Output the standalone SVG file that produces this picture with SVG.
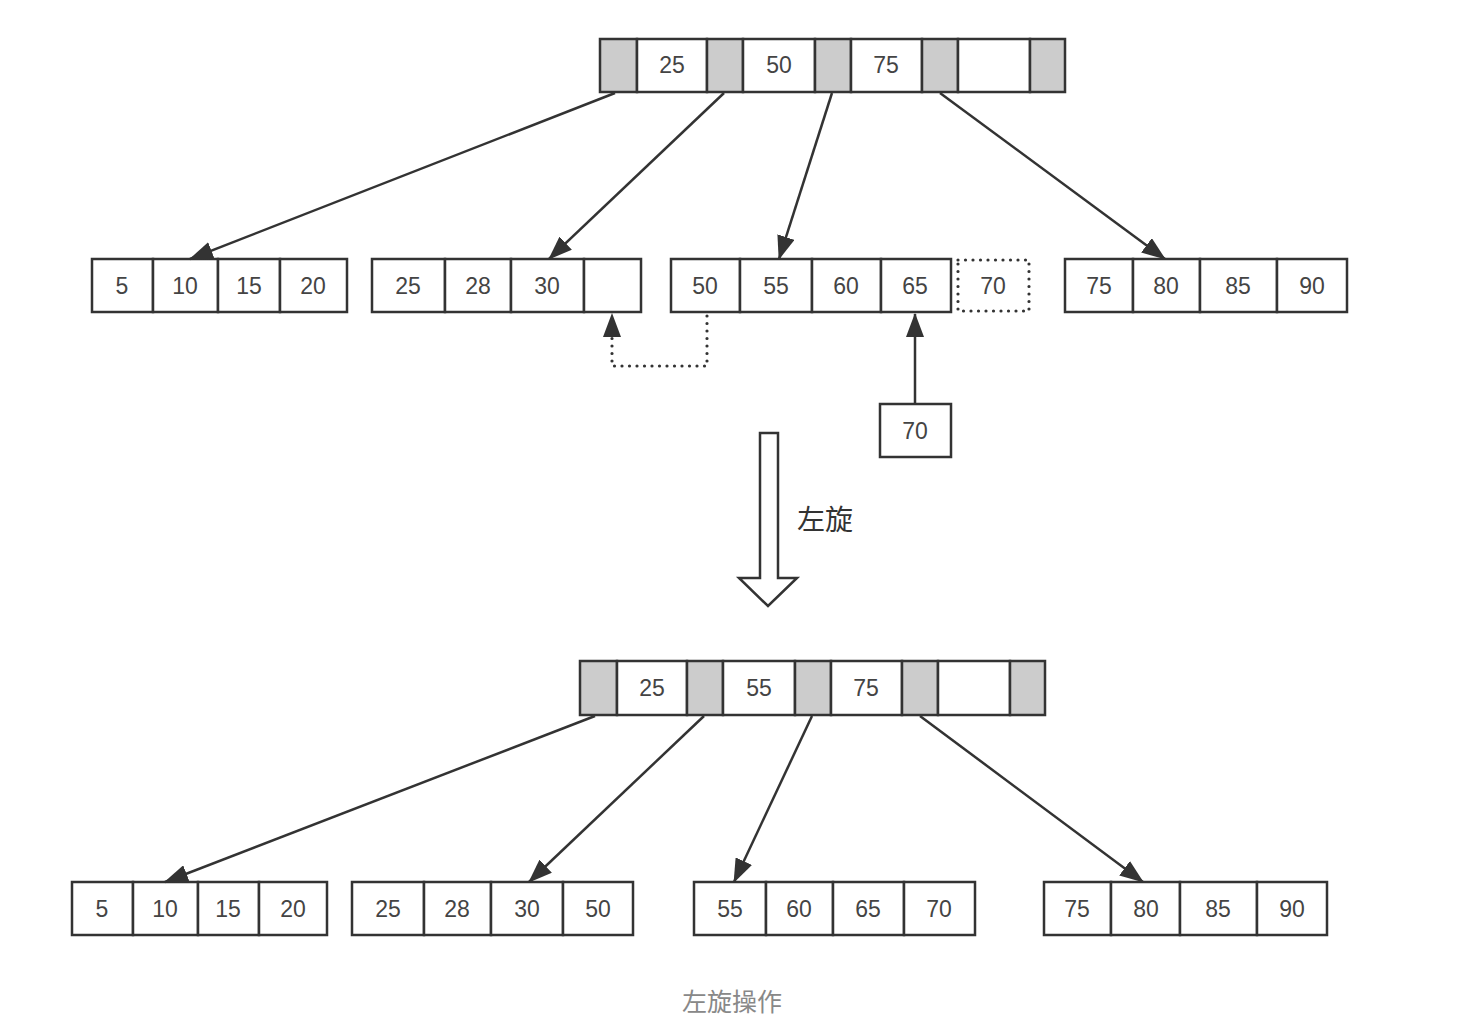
<svg xmlns="http://www.w3.org/2000/svg" width="1458" height="1034" viewBox="0 0 1458 1034">
<style>
.c{fill:#fff;stroke:#333;stroke-width:2.5}
.g{fill:#ccc;stroke:#333;stroke-width:2.5}
.d{fill:none;stroke:#333;stroke-width:3.2;stroke-dasharray:0 7.5;stroke-linecap:round}
.t{font-family:"Liberation Sans",Arial,sans-serif;font-size:23px;fill:#444;text-anchor:middle;dominant-baseline:central}
.e{fill:none;stroke:#333;stroke-width:2.5}
.lbl{font-family:"Noto Sans CJK SC",sans-serif;font-size:28px;fill:#333}
.cap{font-family:"Noto Sans CJK SC",sans-serif;font-size:25px;fill:#888;text-anchor:middle}
</style>
<defs>
<marker id="ah" markerUnits="userSpaceOnUse" markerWidth="24" markerHeight="18" viewBox="0 0 24 18" refX="23" refY="9" orient="auto">
<path d="M0,0 L24,9 L0,18 z" fill="#333"/>
</marker>
</defs>
<rect width="1458" height="1034" fill="#fff"/>

<g id="root1">
<rect class="g" x="600" y="39" width="37" height="53"/>
<rect class="c" x="637" y="39" width="70" height="53"/>
<rect class="g" x="707" y="39" width="36" height="53"/>
<rect class="c" x="743" y="39" width="72" height="53"/>
<rect class="g" x="815" y="39" width="36" height="53"/>
<rect class="c" x="851" y="39" width="71" height="53"/>
<rect class="g" x="922" y="39" width="36" height="53"/>
<rect class="c" x="958" y="39" width="72" height="53"/>
<rect class="g" x="1030" y="39" width="35" height="53"/>
<text class="t" x="672" y="65">25</text>
<text class="t" x="779" y="65">50</text>
<text class="t" x="886" y="65">75</text>
</g>

<g id="leaf1a">
<rect class="c" x="92" y="259" width="61" height="53"/>
<rect class="c" x="153" y="259" width="65" height="53"/>
<rect class="c" x="218" y="259" width="62" height="53"/>
<rect class="c" x="280" y="259" width="67" height="53"/>
<text class="t" x="122" y="286">5</text>
<text class="t" x="185" y="286">10</text>
<text class="t" x="249" y="286">15</text>
<text class="t" x="313" y="286">20</text>
</g>

<g id="leaf2a">
<rect class="c" x="372" y="259" width="73" height="53"/>
<rect class="c" x="445" y="259" width="66" height="53"/>
<rect class="c" x="511" y="259" width="73" height="53"/>
<rect class="c" x="584" y="259" width="57" height="53"/>
<text class="t" x="408" y="286">25</text>
<text class="t" x="478" y="286">28</text>
<text class="t" x="547" y="286">30</text>
</g>

<g id="leaf3a">
<rect class="c" x="671" y="259" width="69" height="53"/>
<rect class="c" x="740" y="259" width="72" height="53"/>
<rect class="c" x="812" y="259" width="69" height="53"/>
<rect class="c" x="881" y="259" width="70" height="53"/>
<text class="t" x="705" y="286">50</text>
<text class="t" x="776" y="286">55</text>
<text class="t" x="846" y="286">60</text>
<text class="t" x="915" y="286">65</text>
</g>

<g id="ghost70">
<rect class="d" x="958" y="260" width="71" height="51"/>
<text class="t" x="993" y="286">70</text>
</g>

<g id="leaf4a">
<rect class="c" x="1065" y="259" width="68" height="53"/>
<rect class="c" x="1133" y="259" width="67" height="53"/>
<rect class="c" x="1200" y="259" width="77" height="53"/>
<rect class="c" x="1277" y="259" width="70" height="53"/>
<text class="t" x="1099" y="286">75</text>
<text class="t" x="1166" y="286">80</text>
<text class="t" x="1238" y="286">85</text>
<text class="t" x="1312" y="286">90</text>
</g>

<g id="new70">
<rect class="c" x="880" y="404" width="71" height="53"/>
<text class="t" x="915" y="431">70</text>
</g>

<g id="rotate-arrow">
<path d="M760,433 L778,433 L778,578 L797,578 L768,606 L739,578 L760,578 Z" fill="#fff" stroke="#333" stroke-width="2.5" stroke-linejoin="miter"/>
<text class="lbl" x="797" y="530">左旋</text>
</g>

<g id="root2">
<rect class="g" x="580" y="661" width="37" height="54"/>
<rect class="c" x="617" y="661" width="70" height="54"/>
<rect class="g" x="687" y="661" width="36" height="54"/>
<rect class="c" x="723" y="661" width="72" height="54"/>
<rect class="g" x="795" y="661" width="36" height="54"/>
<rect class="c" x="831" y="661" width="71" height="54"/>
<rect class="g" x="902" y="661" width="36" height="54"/>
<rect class="c" x="938" y="661" width="72" height="54"/>
<rect class="g" x="1010" y="661" width="35" height="54"/>
<text class="t" x="652" y="688">25</text>
<text class="t" x="759" y="688">55</text>
<text class="t" x="866" y="688">75</text>
</g>

<g id="leaf1b">
<rect class="c" x="72" y="882" width="61" height="53"/>
<rect class="c" x="133" y="882" width="65" height="53"/>
<rect class="c" x="198" y="882" width="61" height="53"/>
<rect class="c" x="259" y="882" width="68" height="53"/>
<text class="t" x="102" y="909">5</text>
<text class="t" x="165" y="909">10</text>
<text class="t" x="228" y="909">15</text>
<text class="t" x="293" y="909">20</text>
</g>

<g id="leaf2b">
<rect class="c" x="352" y="882" width="72" height="53"/>
<rect class="c" x="424" y="882" width="67" height="53"/>
<rect class="c" x="491" y="882" width="72" height="53"/>
<rect class="c" x="563" y="882" width="70" height="53"/>
<text class="t" x="388" y="909">25</text>
<text class="t" x="457" y="909">28</text>
<text class="t" x="527" y="909">30</text>
<text class="t" x="598" y="909">50</text>
</g>

<g id="leaf3b">
<rect class="c" x="694" y="882" width="72" height="53"/>
<rect class="c" x="766" y="882" width="67" height="53"/>
<rect class="c" x="833" y="882" width="71" height="53"/>
<rect class="c" x="904" y="882" width="71" height="53"/>
<text class="t" x="730" y="909">55</text>
<text class="t" x="799" y="909">60</text>
<text class="t" x="868" y="909">65</text>
<text class="t" x="939" y="909">70</text>
</g>

<g id="leaf4b">
<rect class="c" x="1044" y="882" width="67" height="53"/>
<rect class="c" x="1111" y="882" width="69" height="53"/>
<rect class="c" x="1180" y="882" width="77" height="53"/>
<rect class="c" x="1257" y="882" width="70" height="53"/>
<text class="t" x="1077" y="909">75</text>
<text class="t" x="1146" y="909">80</text>
<text class="t" x="1218" y="909">85</text>
<text class="t" x="1292" y="909">90</text>
</g>

<g id="connectors">
<line class="e" x1="615" y1="93" x2="190" y2="259" marker-end="url(#ah)"/>
<line class="e" x1="724" y1="93" x2="549" y2="259" marker-end="url(#ah)"/>
<line class="e" x1="832" y1="93" x2="779" y2="259" marker-end="url(#ah)"/>
<line class="e" x1="940" y1="93" x2="1165" y2="259" marker-end="url(#ah)"/>
<polyline class="d" points="707,316 707,366 612,366 612,338"/>
<line x1="612" y1="340" x2="612" y2="314" stroke="none" fill="none" marker-end="url(#ah)"/>
<line class="e" x1="915" y1="404" x2="915" y2="314" marker-end="url(#ah)"/>
<line class="e" x1="595" y1="716" x2="165" y2="882" marker-end="url(#ah)"/>
<line class="e" x1="704" y1="716" x2="529" y2="882" marker-end="url(#ah)"/>
<line class="e" x1="812" y1="716" x2="734" y2="882" marker-end="url(#ah)"/>
<line class="e" x1="920" y1="716" x2="1143" y2="882" marker-end="url(#ah)"/>
</g>

<text class="cap" x="732" y="1011">左旋操作</text>
</svg>
